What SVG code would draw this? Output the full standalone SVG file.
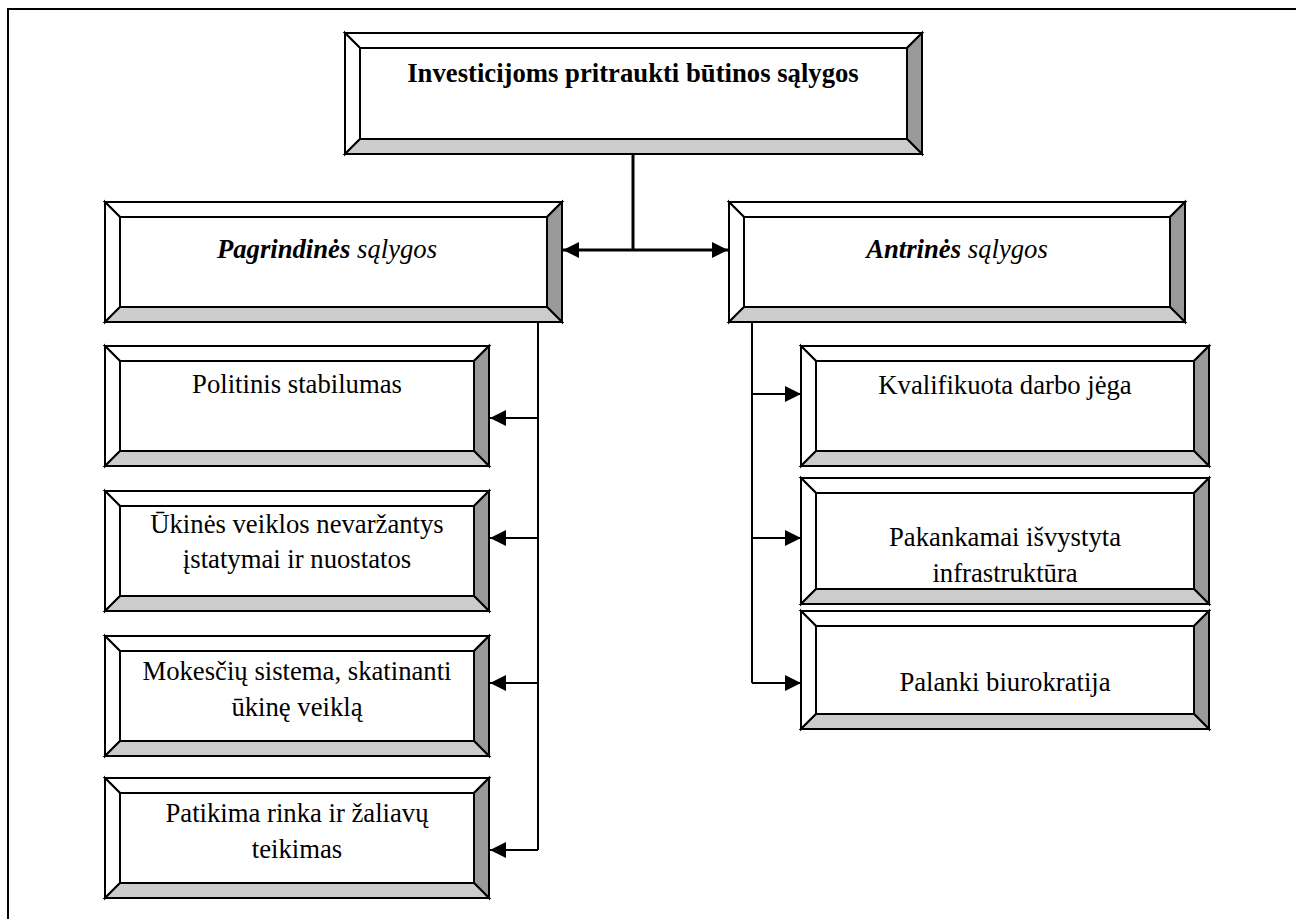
<svg xmlns="http://www.w3.org/2000/svg" width="1296" height="919" viewBox="0 0 1296 919">
  <style>
    .edge { stroke: #000; stroke-width: 2; stroke-linejoin: miter; }
    .face { fill: #fff; }
    .lit { fill: #fff; }
    .shade { fill: #999; }
    .floor { fill: #ccc; }
    .lbl { font-family: "Liberation Serif", "DejaVu Serif", serif; font-size: 26.7px; fill: #000; text-anchor: middle; }
    .wire { stroke: #000; stroke-width: 2; fill: none; }
    .wire-bold { stroke: #000; stroke-width: 3; fill: none; }
  </style>
  <defs>
    <marker id="head" viewBox="0 0 16 16" refX="16" refY="8" markerWidth="16" markerHeight="16" markerUnits="userSpaceOnUse" orient="auto">
      <path d="M0,0 L16,8 L0,16 Z" fill="#000"/>
    </marker>
  </defs>

  <rect width="1296" height="919" fill="#fff"/>
  <!-- page frame -->
  <path d="M8,919 L8,9 L1300,9" class="edge" fill="none"/>

  <!-- connectors -->
  <g id="connectors">
    <path d="M633,154 L633,250" class="wire-bold"/>
    <path d="M633,250 L563,250" class="wire-bold" marker-end="url(#head)"/>
    <path d="M633,250 L728,250" class="wire-bold" marker-end="url(#head)"/>
    <path d="M538,322 L538,850" class="wire"/>
    <path d="M538,418 L490,418" class="wire" marker-end="url(#head)"/>
    <path d="M538,538 L490,538" class="wire" marker-end="url(#head)"/>
    <path d="M538,683 L490,683" class="wire" marker-end="url(#head)"/>
    <path d="M538,850 L490,850" class="wire" marker-end="url(#head)"/>
    <path d="M752,322 L752,683" class="wire"/>
    <path d="M752,394 L801,394" class="wire" marker-end="url(#head)"/>
    <path d="M752,538 L801,538" class="wire" marker-end="url(#head)"/>
    <path d="M752,683 L801,683" class="wire" marker-end="url(#head)"/>
  </g>

  <!-- top node -->
  <g id="node-root">
    <polygon class="lit edge" points="345,33 922,33 907,48 360,48"/>
    <polygon class="lit edge" points="345,33 360,48 360,139 345,154"/>
    <polygon class="shade edge" points="922,33 922,154 907,139 907,48"/>
    <polygon class="floor edge" points="345,154 922,154 907,139 360,139"/>
    <rect class="face edge" x="360" y="48" width="547" height="91"/>
    <text class="lbl" x="633" y="82" font-weight="bold">Investicijoms pritraukti būtinos sąlygos</text>
  </g>

  <g id="node-main">
    <polygon class="lit edge" points="105,202 562,202 547,217 120,217"/>
    <polygon class="lit edge" points="105,202 120,217 120,307 105,322"/>
    <polygon class="shade edge" points="562,202 562,322 547,307 547,217"/>
    <polygon class="floor edge" points="105,322 562,322 547,307 120,307"/>
    <rect class="face edge" x="120" y="217" width="427" height="90"/>
    <text class="lbl" x="327" y="258" font-style="italic"><tspan font-weight="bold">Pagrindinės</tspan> sąlygos</text>
  </g>

  <g id="node-secondary">
    <polygon class="lit edge" points="729,202 1185,202 1170,217 744,217"/>
    <polygon class="lit edge" points="729,202 744,217 744,307 729,322"/>
    <polygon class="shade edge" points="1185,202 1185,322 1170,307 1170,217"/>
    <polygon class="floor edge" points="729,322 1185,322 1170,307 744,307"/>
    <rect class="face edge" x="744" y="217" width="426" height="90"/>
    <text class="lbl" x="957" y="258" font-style="italic"><tspan font-weight="bold">Antrinės</tspan> sąlygos</text>
  </g>

  <g id="node-politics">
    <polygon class="lit edge" points="105,346 489,346 474,361 120,361"/>
    <polygon class="lit edge" points="105,346 120,361 120,451 105,466"/>
    <polygon class="shade edge" points="489,346 489,466 474,451 474,361"/>
    <polygon class="floor edge" points="105,466 489,466 474,451 120,451"/>
    <rect class="face edge" x="120" y="361" width="354" height="90"/>
    <text class="lbl" x="297" y="393">Politinis stabilumas</text>
  </g>

  <g id="node-laws">
    <polygon class="lit edge" points="105,491 489,491 474,506 120,506"/>
    <polygon class="lit edge" points="105,491 120,506 120,596 105,611"/>
    <polygon class="shade edge" points="489,491 489,611 474,596 474,506"/>
    <polygon class="floor edge" points="105,611 489,611 474,596 120,596"/>
    <rect class="face edge" x="120" y="506" width="354" height="90"/>
    <text class="lbl" x="297" y="533">Ūkinės veiklos nevaržantys</text>
    <text class="lbl" x="297" y="568">įstatymai ir nuostatos</text>
  </g>

  <g id="node-tax">
    <polygon class="lit edge" points="105,636 489,636 474,651 120,651"/>
    <polygon class="lit edge" points="105,636 120,651 120,741 105,756"/>
    <polygon class="shade edge" points="489,636 489,756 474,741 474,651"/>
    <polygon class="floor edge" points="105,756 489,756 474,741 120,741"/>
    <rect class="face edge" x="120" y="651" width="354" height="90"/>
    <text class="lbl" x="297" y="680">Mokesčių sistema, skatinanti</text>
    <text class="lbl" x="297" y="716">ūkinę veiklą</text>
  </g>

  <g id="node-market">
    <polygon class="lit edge" points="105,778 489,778 474,793 120,793"/>
    <polygon class="lit edge" points="105,778 120,793 120,883 105,898"/>
    <polygon class="shade edge" points="489,778 489,898 474,883 474,793"/>
    <polygon class="floor edge" points="105,898 489,898 474,883 120,883"/>
    <rect class="face edge" x="120" y="793" width="354" height="90"/>
    <text class="lbl" x="297" y="822">Patikima rinka ir žaliavų</text>
    <text class="lbl" x="297" y="858">teikimas</text>
  </g>

  <g id="node-labour">
    <polygon class="lit edge" points="801,346 1209,346 1194,361 816,361"/>
    <polygon class="lit edge" points="801,346 816,361 816,451 801,466"/>
    <polygon class="shade edge" points="1209,346 1209,466 1194,451 1194,361"/>
    <polygon class="floor edge" points="801,466 1209,466 1194,451 816,451"/>
    <rect class="face edge" x="816" y="361" width="378" height="90"/>
    <text class="lbl" x="1005" y="394">Kvalifikuota darbo jėga</text>
  </g>

  <g id="node-infra">
    <polygon class="lit edge" points="801,478 1209,478 1194,493 816,493"/>
    <polygon class="lit edge" points="801,478 816,493 816,589 801,604"/>
    <polygon class="shade edge" points="1209,478 1209,604 1194,589 1194,493"/>
    <polygon class="floor edge" points="801,604 1209,604 1194,589 816,589"/>
    <rect class="face edge" x="816" y="493" width="378" height="96"/>
    <text class="lbl" x="1005" y="546">Pakankamai išvystyta</text>
    <text class="lbl" x="1005" y="582">infrastruktūra</text>
  </g>

  <g id="node-bureau">
    <polygon class="lit edge" points="801,611 1209,611 1194,626 816,626"/>
    <polygon class="lit edge" points="801,611 816,626 816,714 801,729"/>
    <polygon class="shade edge" points="1209,611 1209,729 1194,714 1194,626"/>
    <polygon class="floor edge" points="801,729 1209,729 1194,714 816,714"/>
    <rect class="face edge" x="816" y="626" width="378" height="88"/>
    <text class="lbl" x="1005" y="691">Palanki biurokratija</text>
  </g>
</svg>
